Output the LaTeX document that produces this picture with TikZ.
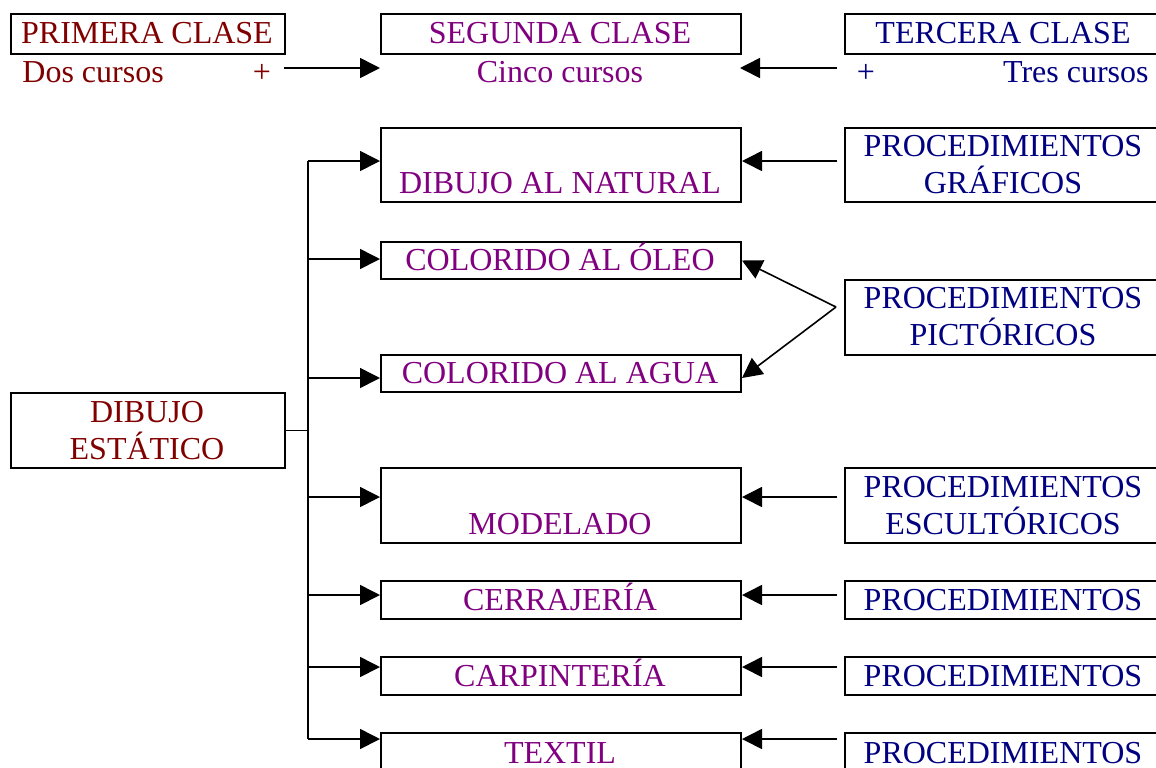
\documentclass[tikz,border=0pt]{standalone}
\usepackage{fontspec}
\setmainfont{Liberation Serif}
\usetikzlibrary{arrows.meta}
\definecolor{cMaroon}{RGB}{128,0,0}
\definecolor{cPurple}{RGB}{128,0,128}
\definecolor{cNavy}{RGB}{0,0,128}
\begin{document}
\begin{tikzpicture}[x=0.5pt,y=-0.5pt,
  box/.style={draw, line width=1pt, inner sep=0pt, anchor=north west},
  conn/.style={line width=0.8pt, -{Triangle[length=10pt,width=10pt]}},
  plain/.style={line width=0.8pt},
  txt/.style={anchor=base, inner sep=0pt, font=\fontsize{16}{18}\selectfont},
  mar/.style={txt, text=cMaroon},
  pur/.style={txt, text=cPurple},
  nav/.style={txt, text=cNavy}]
\path[use as bounding box] (0,0) rectangle (1156,767);
\clip (0,0) rectangle (1156,767);

% ---- boxes ----
\node[box, minimum width=137pt, minimum height=20pt] (c1) at (10,13) {};
\node[box, minimum width=180pt, minimum height=20pt] (c2) at (380,13) {};
\node[box, minimum width=159pt, minimum height=20pt] (c3) at (844,13) {};
\node[box, minimum width=180pt, minimum height=37pt] (nat) at (380,127) {};
\node[box, minimum width=159pt, minimum height=37pt] (graf) at (844,127) {};
\node[box, minimum width=180pt, minimum height=18.5pt] (oleo) at (380,241) {};
\node[box, minimum width=180pt, minimum height=18.5pt] (agua) at (380,354) {};
\node[box, minimum width=159pt, minimum height=37.5pt] (pict) at (844,279) {};
\node[box, minimum width=137pt, minimum height=37.5pt] (est) at (10,392) {};
\node[box, minimum width=180pt, minimum height=37.5pt] (mod) at (380,467) {};
\node[box, minimum width=159pt, minimum height=37.5pt] (escu) at (844,467) {};
\node[box, minimum width=180pt, minimum height=19pt] (cerr) at (380,580) {};
\node[box, minimum width=159pt, minimum height=19pt] (pc1) at (844,580) {};
\node[box, minimum width=180pt, minimum height=19pt] (carp) at (380,656) {};
\node[box, minimum width=159pt, minimum height=19pt] (pc2) at (844,656) {};
\node[box, minimum width=180pt, minimum height=20pt] (text) at (380,732) {};
\node[box, minimum width=159pt, minimum height=20pt] (pc3) at (844,732) {};

% ---- texts ----
\node[mar] (t1) at (147,43) {PRIMERA CLASE};
\node[mar, anchor=base west] (t1a) at (22,82) {Dos cursos};
\node[mar] (t1b) at (262,82) {+};
\node[pur] (t2) at (560,43) {SEGUNDA CLASE};
\node[pur] (t2a) at (560,82) {Cinco cursos};
\node[nav] (t3) at (1003,43) {TERCERA CLASE};
\node[nav] (t3b) at (866,82) {+};
\node[nav, anchor=base east] (t3a) at (1149,82) {Tres cursos};

\node[pur] (tnat) at (560,193) {DIBUJO AL NATURAL};
\node[nav] (tgraf1) at (1003,156) {PROCEDIMIENTOS};
\node[nav] (tgraf2) at (1003,193) {GRÁFICOS};
\node[pur] (toleo) at (560,270) {COLORIDO AL ÓLEO};
\node[pur] (tagua) at (560,383) {COLORIDO AL AGUA};
\node[nav] (tpict1) at (1003,308) {PROCEDIMIENTOS};
\node[nav] (tpict2) at (1003,345) {PICTÓRICOS};
\node[mar] (test1) at (147,422) {DIBUJO};
\node[mar] (test2) at (147,459) {ESTÁTICO};
\node[pur] (tmod) at (560,534) {MODELADO};
\node[nav] (tescu1) at (1003,497) {PROCEDIMIENTOS};
\node[nav] (tescu2) at (1003,534) {ESCULTÓRICOS};
\node[pur] (tcerr) at (560,610) {CERRAJERÍA};
\node[nav] (tpc1) at (1003,610) {PROCEDIMIENTOS};
\node[pur] (tcarp) at (560,686) {CARPINTERÍA};
\node[nav] (tpc2) at (1003,686) {PROCEDIMIENTOS};
\node[pur] (ttext) at (560,763) {TEXTIL};
\node[nav] (tpc3) at (1003,763) {PROCEDIMIENTOS};

% ---- top arrows ----
\coordinate (l1) at (284,68);
\coordinate (l2) at (380,68);
\coordinate (r1) at (837,68);
\coordinate (r2) at (740,68);
\draw[conn] (l1) -- (l2);
\draw[conn] (r1) -- (r2);

% ---- right arrows ----
\coordinate (g) at (837,161);
\draw[conn] (g) -- (g -| nat.east);
\coordinate (pk) at (836,307);
\draw[conn] (pk) -- (oleo.east);
\draw[conn] (pk) -- ([yshift=-2.25pt]agua.east);
\coordinate (e) at (837,497);
\draw[conn] (e) -- (e -| mod.east);
\coordinate (q1) at (837,595);
\draw[conn] (q1) -- (q1 -| cerr.east);
\coordinate (q2) at (837,667);
\draw[conn] (q2) -- (q2 -| carp.east);
\coordinate (q3) at (837,739);
\draw[conn] (q3) -- (q3 -| text.east);

% ---- tree ----
\coordinate (top) at (308,161);
\coordinate (bot) at (308,739);
\draw[plain] (top) -- (bot);
\draw[plain] (est.east) -- (est.east -| top);
\coordinate (b1) at (308,161);
\coordinate (b2) at (308,259);
\coordinate (b3) at (308,378);
\coordinate (b4) at (308,497);
\coordinate (b5) at (308,595);
\coordinate (b6) at (308,667);
\coordinate (b7) at (308,739);
\draw[conn] (b1) -- (b1 -| nat.west);
\draw[conn] (b2) -- (b2 -| oleo.west);
\draw[conn] (b3) -- (b3 -| agua.west);
\draw[conn] (b4) -- (b4 -| mod.west);
\draw[conn] (b5) -- (b5 -| cerr.west);
\draw[conn] (b6) -- (b6 -| carp.west);
\draw[conn] (b7) -- (b7 -| text.west);
\end{tikzpicture}
\end{document}
